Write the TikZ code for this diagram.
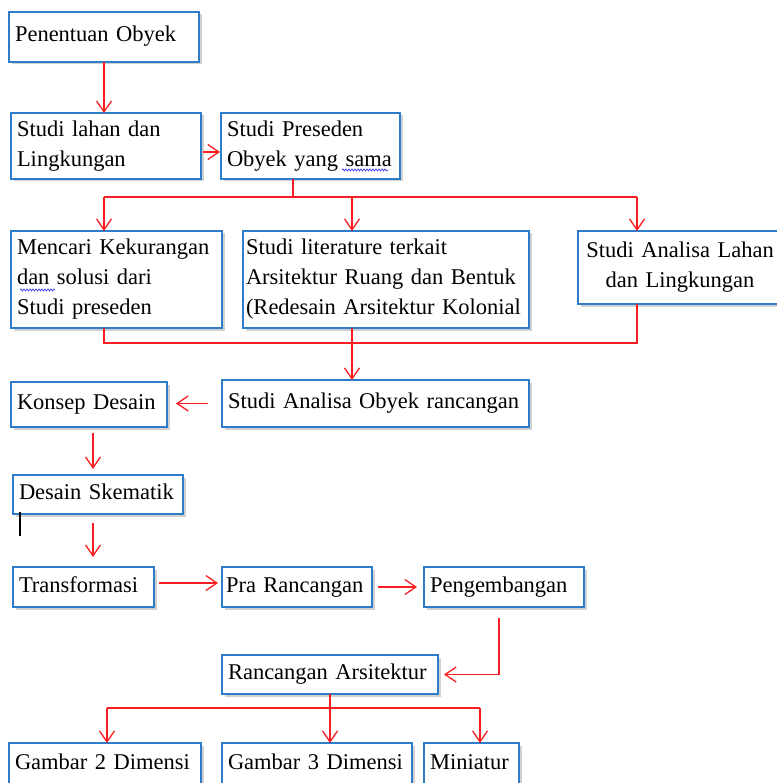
\documentclass[tikz,border=0pt]{standalone}
\usepackage{fontspec}
\setmainfont{Liberation Serif}
\usetikzlibrary{arrows.meta,positioning,shadows,decorations.pathmorphing}
\definecolor{cBorder}{RGB}{46,125,200}
\definecolor{cArrow}{RGB}{250,30,35}
\definecolor{cSquig}{RGB}{60,60,230}
\tikzset{
  basebox/.style={rectangle,draw=cBorder,line width=1.4pt,fill=white,
                  anchor=north west,outer sep=0pt,inner xsep=6pt,inner ysep=2pt,
                  align=left,font=\fontsize{22.5}{30}\selectfont,
                  drop shadow={shadow xshift=2.5pt,shadow yshift=-2.5pt,
                               fill=black,opacity=0.18}},
  onebox/.style={basebox,text height=16pt,text depth=6pt},
  redline/.style={draw=cArrow,line width=1.3pt},
  redarr/.style={redline,-{Straight Barb[length=11pt,width=15pt]}},
  squig/.style={draw=cSquig,line width=0.7pt,decorate,
                decoration={snake,amplitude=1pt,segment length=3pt}}
}

\begin{document}
\begin{tikzpicture}[x=1pt,y=-1pt]
  \fill[white] (0,0) rectangle (776,783);
  \useasboundingbox (0,0) rectangle (776,783);

  % survey stage
  \node[onebox,text width=178pt,minimum height=50pt] (pen) at (9,12)
      {Penentuan Obyek};
  \node[basebox,text width=178pt,minimum height=66pt] (lahan) at (11,113)
      {Studi lahan dan\\Lingkungan};
  \node[basebox,text width=167pt,minimum height=66pt,right=20pt of lahan] (pres)
      {Studi Preseden\\Obyek yang sama};

  \node[basebox,text width=199pt,minimum height=97pt] (mencari) at (11,231)
      {Mencari Kekurangan\\dan solusi dari\\Studi preseden};
  \node[basebox,text width=280pt,inner xsep=3pt,minimum height=97pt] (lit) at (243,231)
      {Studi literature terkait\\Arsitektur Ruang dan Bentuk\\(Redesain Arsitektur Kolonial};
  \node[basebox,text width=192pt,align=center,minimum height=73pt] (anal) at (578,231)
      {Studi Analisa Lahan\\dan Lingkungan};

  % design stage
  \node[onebox,text width=295pt,minimum height=47pt] (obj) at (222,380)
      {Studi Analisa Obyek rancangan};
  \node[onebox,text width=144pt,minimum height=45pt] (konsep) at (11,382)
      {Konsep Desain};
  \node[onebox,text width=158pt,minimum height=39pt] (skem) at (13,475)
      {Desain Skematik};
  \node[onebox,text width=129pt,minimum height=40pt] (trans) at (13,567)
      {Transformasi};
  \node[onebox,text width=142pt,inner xsep=4pt,minimum height=40pt,right=68pt of trans] (pra)
      {Pra Rancangan};
  \node[onebox,text width=148pt,minimum height=40pt,right=52pt of pra] (peng)
      {Pengembangan};
  \node[onebox,text width=204pt,minimum height=39pt] (ranc) at (222,655)
      {Rancangan Arsitektur};

  % outputs
  \node[onebox,text width=180pt,minimum height=42pt] (g2) at (9,743)
      {Gambar 2 Dimensi};
  \node[onebox,text width=178pt,minimum height=42pt,right=21pt of g2] (g3)
      {Gambar 3 Dimensi};
  \node[onebox,text width=83pt,minimum height=42pt,right=12pt of g3] (mini)
      {Miniatur};

  % spell-check marks and caret
  \draw[squig] (342,170) -- (388,170);
  \draw[squig] (20,290) -- (55,290);
  \draw[line width=1.3pt] (20,512) -- (20,536);

  % junction points
  \coordinate (t0) at (293,197);
  \coordinate (t1) at (104,197);
  \coordinate (t2) at (352,197);
  \coordinate (t3) at (637,197);
  \coordinate (u1) at (104,343);
  \coordinate (u2) at (352,343);
  \coordinate (u3) at (637,343);
  \coordinate (v1) at (107,708);
  \coordinate (v2) at (330,708);
  \coordinate (v3) at (480,708);

  \draw[redarr] (pen.south) -- (pen.south |- lahan.north);
  \draw[redarr,shorten <=2pt,shorten >=1pt] ([yshift=-6pt]lahan.east) -- ([yshift=-6pt]pres.west);

  \draw[redline] (t0 |- pres.south) -- (t0);
  \draw[redline] (t1) -- (t3);
  \draw[redarr] (t1) -- (t1 |- mencari.north);
  \draw[redarr] (t2) -- (t2 |- lit.north);
  \draw[redarr] (t3) -- (t3 |- anal.north);

  \draw[redline] (u1 |- mencari.south) -- (u1) -- (u3) -- (u3 |- anal.south);
  \draw[redarr] (u2 |- lit.south) -- (u2 |- obj.north);

  \draw[redarr,shorten <=14pt,shorten >=9pt] (obj.west) -- (konsep.east |- obj.west);
  \draw[redarr,shorten <=6pt,shorten >=6pt] ([xshift=4pt]konsep.south)
      -- ([xshift=4pt]konsep.south |- skem.north);
  \draw[redarr,shorten <=9pt,shorten >=10pt] ([xshift=-5pt]skem.south)
      -- ([xshift=-5pt]skem.south |- trans.north);
  \draw[redarr,shorten <=5pt,shorten >=4pt] ([yshift=4pt]trans.east) -- ([yshift=4pt]pra.west);
  \draw[redarr,shorten <=6pt,shorten >=7pt] (pra.east) -- (peng.west);
  \draw[redarr,shorten <=11pt,shorten >=6pt] ([xshift=-5pt]peng.south) |- (ranc.east);

  \draw[redline] (ranc.south) -- (v2);
  \draw[redline] (v1) -- (v3);
  \draw[redarr] (v1) -- (v1 |- g2.north);
  \draw[redarr] (v2) -- (v2 |- g3.north);
  \draw[redarr] (v3) -- (v3 |- mini.north);
\end{tikzpicture}
\end{document}
